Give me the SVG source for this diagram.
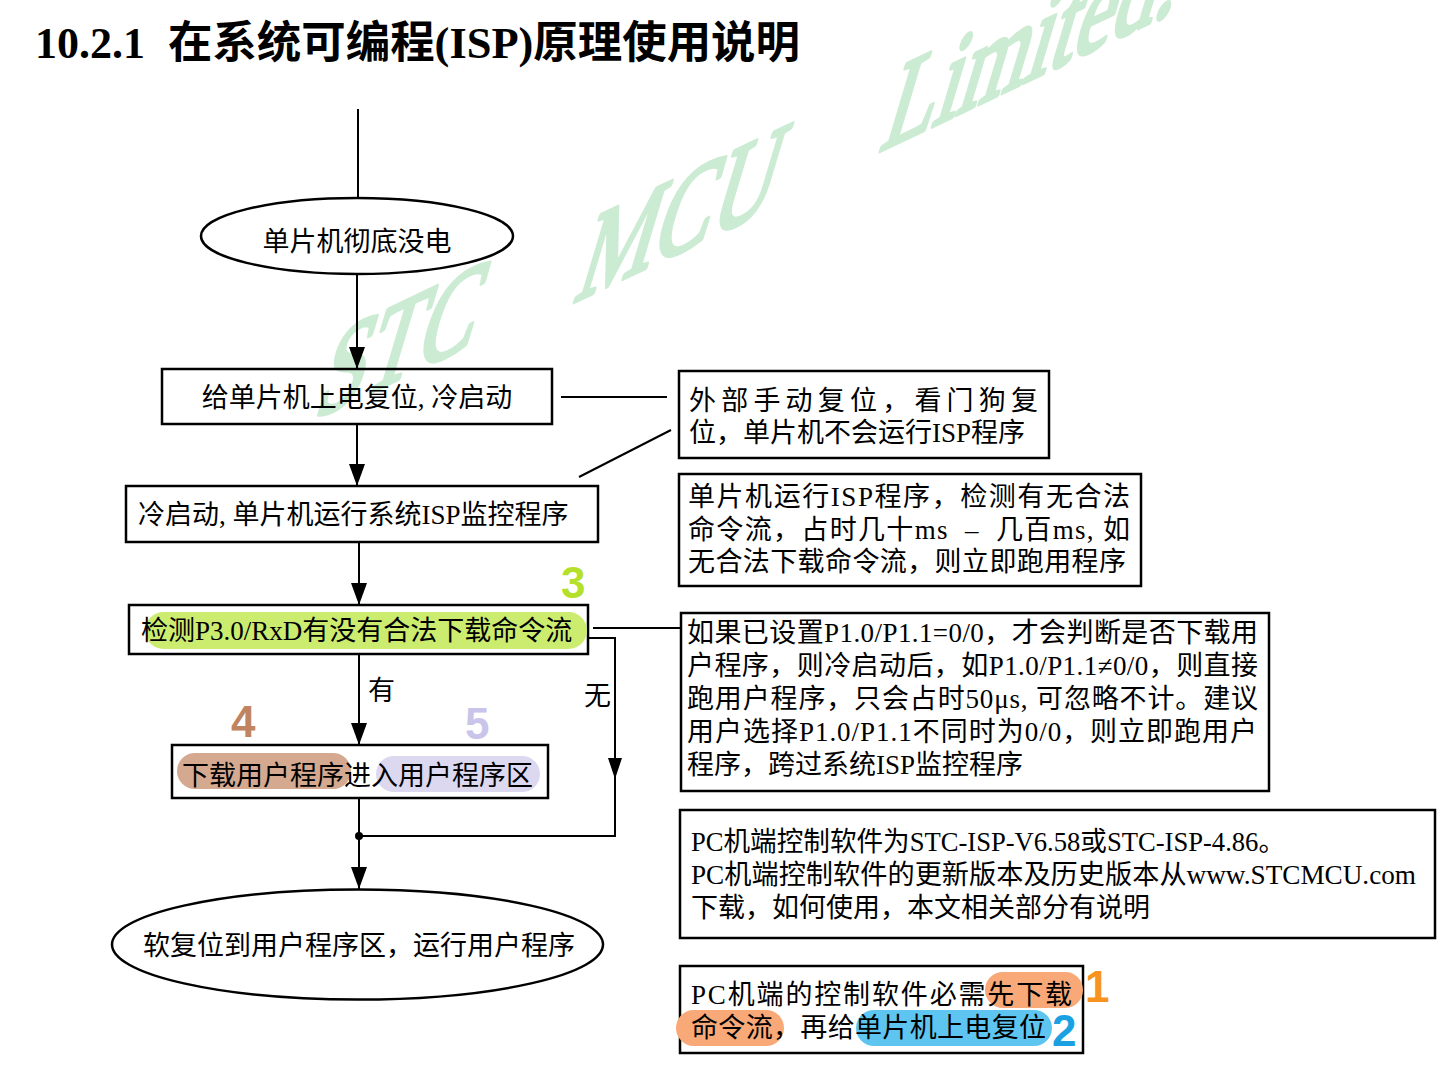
<svg xmlns="http://www.w3.org/2000/svg" width="1448" height="1076" viewBox="0 0 1448 1076">
  <defs>
    <marker id="arr" markerUnits="userSpaceOnUse" markerWidth="22" markerHeight="16" viewBox="0 0 22 16" refX="22" refY="8" orient="auto">
      <path d="M0,0 L22,8 L0,16 z" fill="#000"/>
    </marker>
  </defs>
  <style>
    .box { fill: none; stroke: #000; stroke-width: 2.5; }
    .ell { fill: none; stroke: #000; stroke-width: 2.5; }
    .ln { fill: none; stroke: #000; stroke-width: 2; }
    .t { font-family: "Liberation Serif", "Noto Sans CJK SC", serif; font-size: 27px; fill: #000; }
    .num { font-family: "Liberation Sans", Arial, sans-serif; font-size: 44px; font-weight: bold; }
    .wm { font-family: "Liberation Serif", serif; font-size: 104px; fill: #cbebd3; stroke: #cbebd3; stroke-width: 4; stroke-linejoin: round; }
  </style>
  <rect width="1448" height="1076" fill="#fff"/>

  <!-- watermark -->
  <g id="watermark">
    <text class="wm" transform="matrix(0.83,-0.395,-0.38,1.27,312,420)">STC</text>
    <text class="wm" transform="matrix(0.83,-0.395,-0.38,1.27,572,303)">MCU</text>
    <text class="wm" transform="matrix(0.83,-0.395,-0.38,1.27,878,152)">Limited.</text>
  </g>

  <!-- title -->
  <g id="title">
    <text x="35" y="58" font-family="Liberation Serif, serif" font-size="44" font-weight="bold">10.2.1</text>
    <text x="168" y="58" font-family="Liberation Serif, 'Noto Sans CJK SC', sans-serif" font-size="44" font-weight="bold" textLength="632" lengthAdjust="spacingAndGlyphs">在系统可编程(ISP)原理使用说明</text>
  </g>

  <!-- connectors -->
  <g id="connectors">
    <line class="ln" x1="358" y1="109" x2="358" y2="198"/>
    <line class="ln" x1="357" y1="274" x2="357" y2="369" marker-end="url(#arr)"/>
    <line class="ln" x1="357" y1="424" x2="357" y2="486" marker-end="url(#arr)"/>
    <line class="ln" x1="359" y1="542" x2="359" y2="605" marker-end="url(#arr)"/>
    <line class="ln" x1="359" y1="654" x2="359" y2="745" marker-end="url(#arr)"/>
    <line class="ln" x1="359" y1="798" x2="359" y2="836"/>
    <line class="ln" x1="359" y1="836" x2="359" y2="889" marker-end="url(#arr)"/>
    <polyline class="ln" points="588,638 615,638 615,836 359,836"/>
    <path d="M608,758 L622,758 L615,779 z" fill="#000"/>
    <circle cx="359" cy="836" r="4" fill="#000"/>
    <line class="ln" x1="561" y1="397" x2="667" y2="397"/>
    <line class="ln" x1="579" y1="477" x2="671" y2="430"/>
    <line class="ln" x1="593" y1="628" x2="680" y2="628"/>
    <text class="t" x="368" y="700" font-size="26">有</text>
    <text class="t" x="584" y="705" font-size="26">无</text>
  </g>

  <!-- flow nodes -->
  <g id="n-poweroff">
    <ellipse class="ell" cx="357" cy="236" rx="156" ry="38"/>
    <text class="t" x="357" y="251" text-anchor="middle">单片机彻底没电</text>
  </g>
  <g id="n-poweron">
    <rect class="box" x="162" y="369" width="390" height="55"/>
    <text class="t" x="357" y="407" text-anchor="middle">给单片机上电复位, 冷启动</text>
  </g>
  <g id="n-coldstart">
    <rect class="box" x="126" y="486" width="472" height="56"/>
    <text class="t" x="138" y="524">冷启动, 单片机运行系统ISP监控程序</text>
  </g>
  <g id="n-detect">
    <rect class="box" x="129" y="605" width="459" height="49"/>
    <rect x="145" y="612" width="442" height="37" rx="18.5" fill="#cbec6f"/>
    <text class="t" x="141" y="640">检测P3.0/RxD有没有合法下载命令流</text>
    <text class="num" x="561" y="598" fill="#b5e02a">3</text>
  </g>
  <g id="n-download">
    <rect class="box" x="172" y="745" width="376" height="53"/>
    <rect x="177" y="753" width="174" height="36" rx="18" fill="#d4a990"/>
    <rect x="376" y="756" width="164" height="36" rx="18" fill="#dcd8f0"/>
    <text class="t" x="182" y="785">下载用户程序进入用户程序区</text>
    <text class="num" x="231" y="737" fill="#c08460">4</text>
    <text class="num" x="465" y="739" fill="#c9c5ea">5</text>
  </g>
  <g id="n-runuser">
    <ellipse class="ell" cx="357.5" cy="944.5" rx="245.5" ry="55"/>
    <text class="t" x="359" y="955" text-anchor="middle">软复位到用户程序区，运行用户程序</text>
  </g>

  <!-- note boxes -->
  <g id="note-reset">
    <rect class="box" x="679" y="371" width="370" height="87"/>
    <text class="t" x="689" y="410" textLength="349" lengthAdjust="spacing">外部手动复位，看门狗复</text>
    <text class="t" x="689" y="442">位，单片机不会运行ISP程序</text>
  </g>
  <g id="note-isp">
    <rect class="box" x="679" y="474" width="462" height="112"/>
    <text class="t" x="688" y="506" textLength="442" lengthAdjust="spacing">单片机运行ISP程序，检测有无合法</text>
    <text class="t" x="688" y="539" textLength="442" lengthAdjust="spacing" xml:space="preserve">命令流，占时几十ms  –  几百ms, 如</text>
    <text class="t" x="688" y="571" textLength="438" lengthAdjust="spacing">无合法下载命令流，则立即跑用程序</text>
  </g>
  <g id="note-p1">
    <rect class="box" x="681" y="613" width="588" height="178"/>
    <text class="t" x="687" y="642" textLength="571" lengthAdjust="spacing">如果已设置P1.0/P1.1=0/0，才会判断是否下载用</text>
    <text class="t" x="687" y="675" textLength="571" lengthAdjust="spacing">户程序，则冷启动后，如P1.0/P1.1≠0/0，则直接</text>
    <text class="t" x="687" y="708" textLength="571" lengthAdjust="spacing">跑用户程序，只会占时50μs, 可忽略不计。建议</text>
    <text class="t" x="687" y="741" textLength="570" lengthAdjust="spacing">用户选择P1.0/P1.1不同时为0/0，则立即跑用户</text>
    <text class="t" x="687" y="774">程序，跨过系统ISP监控程序</text>
  </g>
  <g id="note-pc">
    <rect class="box" x="680" y="810" width="755" height="128"/>
    <text class="t" x="691" y="851" textLength="594" lengthAdjust="spacingAndGlyphs">PC机端控制软件为STC-ISP-V6.58或STC-ISP-4.86。</text>
    <text class="t" x="691" y="884" textLength="725" lengthAdjust="spacingAndGlyphs">PC机端控制软件的更新版本及历史版本从www.STCMCU.com</text>
    <text class="t" x="691" y="917">下载，如何使用，本文相关部分有说明</text>
  </g>
  <g id="note-order">
    <rect class="box" x="680" y="966" width="403" height="87"/>
    <rect x="985" y="972" width="98" height="36" rx="18" fill="#f9a877"/>
    <rect x="676" y="1010" width="108" height="36" rx="18" fill="#f9a877"/>
    <rect x="856" y="1010" width="196" height="36" rx="18" fill="#5ec5f0"/>
    <text class="t" x="691" y="1004" textLength="381" lengthAdjust="spacing">PC机端的控制软件必需先下载</text>
    <text class="t" x="691" y="1037" textLength="355" lengthAdjust="spacing">命令流，再给单片机上电复位</text>
    <text class="num" x="1085" y="1002" fill="#f7931e">1</text>
    <text class="num" x="1052" y="1046" fill="#1ba1e2">2</text>
  </g>
</svg>
